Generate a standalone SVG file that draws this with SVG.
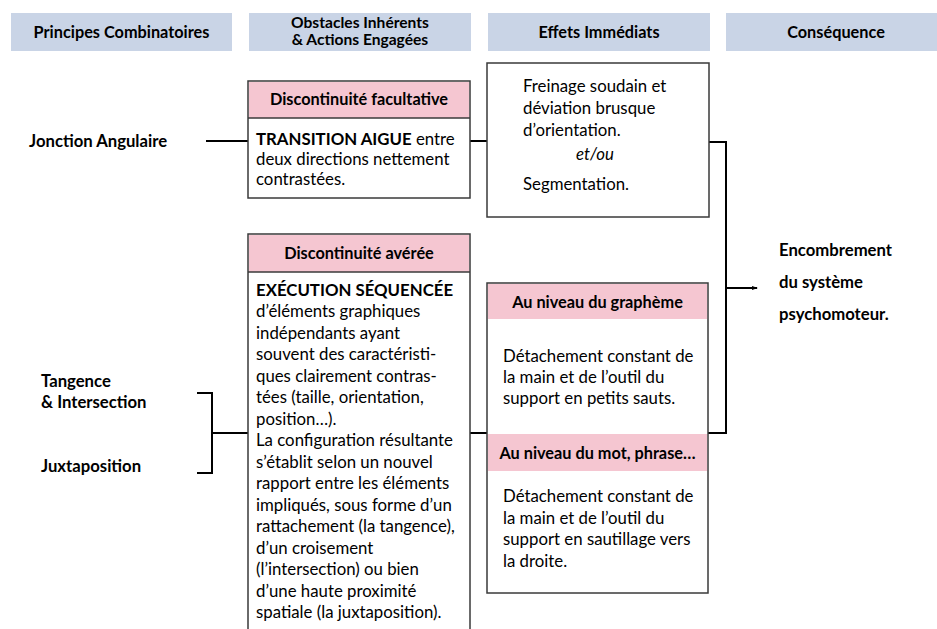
<svg xmlns="http://www.w3.org/2000/svg" width="937" height="629" viewBox="0 0 937 629">
<defs>
<style>
text{font-family:Lato,"Liberation Sans",sans-serif;fill:#000;}
.hdr{fill:#c9d4e6;}
.ht{font-size:16.3px;font-weight:bold;text-anchor:middle;}
.ht2{font-size:15.6px;font-weight:bold;text-anchor:middle;}
.lab{font-size:16.7px;font-weight:bold;}
.box{fill:#fff;stroke:#3a3a3a;stroke-width:1.5;}
.pink{fill:#f5c6d1;}
.pt{font-size:16.3px;font-weight:bold;text-anchor:middle;}
.bt{font-size:16.8px;}
.con{fill:none;stroke:#000;stroke-width:2;}
</style>
<marker id="arr" markerWidth="6" markerHeight="6" refX="5" refY="3" orient="auto" markerUnits="userSpaceOnUse">
<path d="M0,1 L6,3 L0,5 Z" fill="#000"/>
</marker>
</defs>
<rect width="937" height="629" fill="#fff"/>

<g id="headers">
<rect class="hdr" x="11" y="13" width="221" height="38"/>
<text class="ht" x="121.5" y="37.5">Principes Combinatoires</text>
<rect class="hdr" x="249" y="13" width="222" height="38"/>
<text class="ht2" x="360" y="27.5">Obstacles Inhérents</text>
<text class="ht2" x="360" y="44.5">&amp; Actions Engagées</text>
<rect class="hdr" x="488" y="13" width="222" height="38"/>
<text class="ht" x="599" y="37.5">Effets Immédiats</text>
<rect class="hdr" x="726" y="13" width="211" height="38"/>
<text class="ht" x="836" y="37.5">Conséquence</text>
</g>

<g id="connectors">
<line class="con" x1="206" y1="141" x2="248" y2="141"/>
<line class="con" x1="470" y1="141" x2="487" y2="141"/>
<polyline class="con" points="709,142 726,142 726,433 708,433"/>
<line class="con" x1="726" y1="288" x2="757" y2="288" marker-end="url(#arr)"/>
<polyline class="con" points="197,393 212,393 212,473 197,473"/>
<line class="con" x1="212" y1="433" x2="248" y2="433"/>
<line class="con" x1="470" y1="433" x2="487" y2="433"/>
</g>

<g id="jonction">
<text class="lab" x="29" y="147">Jonction Angulaire</text>
</g>
<g id="tangence">
<text class="lab" x="41" y="387">Tangence</text>
<text class="lab" x="41" y="408">&amp; Intersection</text>
</g>
<g id="juxtaposition">
<text class="lab" x="41" y="472">Juxtaposition</text>
</g>

<g id="disc-facultative">
<rect class="box" x="248" y="81" width="222" height="117"/>
<rect class="pink" x="249" y="82" width="220" height="36"/>
<line x1="248" y1="118" x2="470" y2="118" stroke="#3a3a3a" stroke-width="1.5"/>
<text class="pt" x="359" y="105">Discontinuité facultative</text>
<text class="bt" x="256" y="144.5"><tspan font-weight="bold">TRANSITION AIGUE</tspan> entre</text>
<text class="bt" x="256" y="165">deux directions nettement</text>
<text class="bt" x="256" y="185">contrastées.</text>
</g>

<g id="effets">
<rect class="box" x="487" y="63" width="222" height="154"/>
<text class="bt" x="523" y="92">Freinage soudain et</text>
<text class="bt" x="523" y="113.5">déviation brusque</text>
<text class="bt" x="523" y="136">d’orientation.</text>
<text class="bt" x="595" y="160" font-style="italic" text-anchor="middle">et/ou</text>
<text class="bt" x="523" y="190">Segmentation.</text>
</g>

<g id="disc-averee">
<rect class="box" x="248" y="234" width="222" height="420"/>
<rect class="pink" x="249" y="235" width="220" height="37"/>
<line x1="248" y1="272" x2="470" y2="272" stroke="#3a3a3a" stroke-width="1.5"/>
<text class="pt" x="359" y="258.5">Discontinuité avérée</text>
<text class="bt" x="256" y="295.5" font-weight="bold">EXÉCUTION SÉQUENCÉE</text>
<text class="bt" x="256" y="317">d’éléments graphiques</text>
<text class="bt" x="256" y="338.5">indépendants ayant</text>
<text class="bt" x="256" y="360">souvent des caractéristi-</text>
<text class="bt" x="256" y="381.5">ques clairement contras-</text>
<text class="bt" x="256" y="403">tées (taille, orientation,</text>
<text class="bt" x="256" y="424.5">position…).</text>
<text class="bt" x="256" y="446">La configuration résultante</text>
<text class="bt" x="256" y="467.5">s’établit selon un nouvel</text>
<text class="bt" x="256" y="489">rapport entre les éléments</text>
<text class="bt" x="256" y="510.5">impliqués, sous forme d’un</text>
<text class="bt" x="256" y="532">rattachement (la tangence),</text>
<text class="bt" x="256" y="553.5">d’un croisement</text>
<text class="bt" x="256" y="575">(l’intersection) ou bien</text>
<text class="bt" x="256" y="596.5">d’une haute proximité</text>
<text class="bt" x="256" y="618">spatiale (la juxtaposition).</text>
</g>

<g id="niveaux">
<rect class="box" x="487" y="283" width="221" height="310"/>
<rect class="pink" x="488" y="284" width="219" height="35"/>
<text class="pt" x="597.5" y="307.5">Au niveau du graphème</text>
<text class="bt" x="503" y="362">Détachement constant de</text>
<text class="bt" x="503" y="383">la main et de l’outil du</text>
<text class="bt" x="503" y="404">support en petits sauts.</text>
<rect class="pink" x="488" y="434" width="219" height="37"/>
<text class="pt" x="597.5" y="458.5">Au niveau du mot, phrase…</text>
<text class="bt" x="503" y="502">Détachement constant de</text>
<text class="bt" x="503" y="523.5">la main et de l’outil du</text>
<text class="bt" x="503" y="545">support en sautillage vers</text>
<text class="bt" x="503" y="567">la droite.</text>
</g>

<g id="consequence">
<text class="lab" x="779" y="256">Encombrement</text>
<text class="lab" x="779" y="288">du système</text>
<text class="lab" x="779" y="320">psychomoteur.</text>
</g>
</svg>
